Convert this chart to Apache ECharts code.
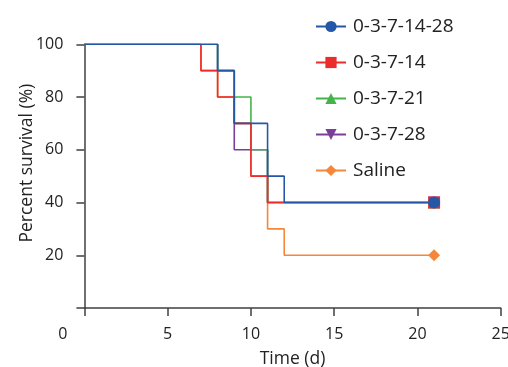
<!DOCTYPE html>
<html>
<head>
<meta charset="utf-8">
<script src="https://cdn.jsdelivr.net/npm/echarts@6/dist/echarts.min.js"></script>
<style>html,body{margin:0;padding:0;background:#fff}#c{width:508px;height:367px}</style>
</head>
<body>
<div id="c"></div>
<script>
// Kaplan-Meier steps: event days and survival (%)
var seriesNames = ['0-3-7-14-28', '0-3-7-14', '0-3-7-21', '0-3-7-28', 'Saline'];
var daysA = [0, 8, 9, 11, 12, 21];          var survA = [100, 90, 70, 50, 40, 40];
var daysB = [0, 7, 8, 9, 10, 11, 21];       var survB = [100, 90, 80, 70, 50, 40, 40];
var daysC = [0, 8, 9, 10, 11, 21];          var survC = [100, 90, 80, 60, 40, 40];
var daysD = [0, 8, 9, 11, 21];              var survD = [100, 90, 60, 40, 40];
var daysE = [0, 7, 8, 9, 10, 11, 12, 21];   var survE = [100, 90, 80, 70, 50, 30, 20, 20];
var xTicks = [0, 5, 10, 15, 20, 25];
var yTicks = [0, 20, 40, 60, 80, 100];

var colors = ['#2557a7', '#ec2b2c', '#44b44a', '#7a3f98', '#f6873a'];
var symbols = ['circle', 'rect', 'triangle', 'triangle', 'diamond'];
var rotates = [0, 0, 0, 180, 0];
var sizes = [12, 12, 12, 12, 12];

function pts(days, surv) {
  return days.map(function (d, i) {
    var o = { value: [d, surv[i]] };
    if (i !== days.length - 1) o.symbol = 'none';
    return o;
  });
}
var allData = [pts(daysA, survA), pts(daysB, survB), pts(daysC, survC), pts(daysD, survD), pts(daysE, survE)];

function mk(i) {
  return {
    name: seriesNames[i], type: 'line', step: 'end', data: allData[i],
    symbol: symbols[i], symbolSize: sizes[i], symbolRotate: rotates[i],
    showSymbol: true, showAllSymbol: true,
    lineStyle: { color: colors[i], width: 1.6 },
    itemStyle: { color: colors[i] },
    emphasis: { disabled: true }, silent: true
  };
}
// draw order bottom -> top
var order = [4, 3, 2, 1, 0];

var axisCol = '#404040';
var font = 'Open Sans';
var chart = echarts.init(document.getElementById('c'), null, { renderer: 'canvas' });
chart.setOption({
  animation: false,
  color: colors,
  grid: { left: 84.4, right: 7.3, top: 44.3, bottom: 59, containLabel: false, outerBoundsMode: 'none' },
  legend: {
    data: seriesNames, orient: 'vertical', left: 310, top: 12,
    itemWidth: 30, itemHeight: 14, itemGap: 17,
    textStyle: { fontFamily: font, fontSize: 19, color: '#222', lineHeight: 14, padding: [0, 0, 0, 2] }
  },
  xAxis: {
    type: 'value', min: xTicks[0], max: xTicks[xTicks.length - 1], interval: 5,
    name: 'Time (d)', nameLocation: 'middle', nameGap: 42, nameMoveOverlap: false,
    nameTextStyle: { fontFamily: font, fontSize: 17.5, color: '#222' },
    axisLine: { lineStyle: { color: axisCol, width: 1.5 } },
    axisTick: { length: 8, lineStyle: { color: axisCol, width: 1.5 } },
    splitLine: { show: false },
    axisLabel: {
      margin: 18, fontFamily: font, fontSize: 16, color: '#222',
      formatter: function (v) { return v === 0 ? '{z|0}' : String(v); },
      rich: { z: { fontFamily: font, fontSize: 16, color: '#222', padding: [0, 43, 0, 0] } }
    }
  },
  yAxis: {
    type: 'value', min: yTicks[0], max: yTicks[yTicks.length - 1], interval: 20,
    name: 'Percent survival (%)', nameLocation: 'middle', nameGap: 48, nameMoveOverlap: false,
    nameTextStyle: { fontFamily: font, fontSize: 17.5, color: '#222', padding: [0, 0, 0, 26] },
    axisLine: { show: true, lineStyle: { color: axisCol, width: 1.5 } },
    axisTick: { show: true, length: 8, lineStyle: { color: axisCol, width: 1.5 } },
    splitLine: { show: false },
    axisLabel: {
      margin: 21, fontFamily: font, fontSize: 16, color: '#222',
      formatter: function (v) { return v === 0 ? '' : String(v); }
    }
  },
  series: order.map(mk)
});
</script>
</body>
</html>
